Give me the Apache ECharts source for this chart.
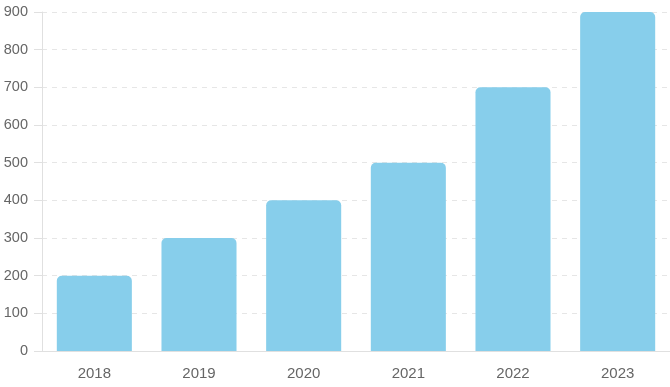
<!DOCTYPE html>
<html><head><meta charset="utf-8">
<script src="https://cdn.jsdelivr.net/npm/echarts@6/dist/echarts.min.js"></script>
<style>html,body{margin:0;padding:0;background:#fff}#c{width:670px;height:387px}</style>
</head><body><div id="c"></div>
<script>
const categories = ['2018','2019','2020','2021','2022','2023'];
const values = [200, 300, 400, 500, 700, 900];
const chart = echarts.init(document.getElementById('c'));
chart.setOption({
  animation: false,
  grid: {left: 42, right: 0, top: 12, bottom: 36},
  xAxis: {
    type: 'category', data: categories,
    axisLine: {lineStyle: {color: '#e0e0e0'}},
    axisTick: {show: false},
    axisLabel: {color: '#666', fontSize: 15, margin: 15, fontFamily: 'Liberation Sans, Arial, sans-serif'}
  },
  yAxis: {
    type: 'value', min: 0, max: 900, interval: 100,
    axisLine: {show: true, lineStyle: {color: '#e0e0e0'}},
    axisTick: {show: true, length: 8, lineStyle: {color: '#e0e0e0'}},
    axisLabel: {color: '#666', fontSize: 14.5, margin: 14, fontFamily: 'Liberation Sans, Arial, sans-serif'},
    splitLine: {lineStyle: {color: '#e6e6e6', type: [5, 5]}}
  },
  series: [{
    type: 'bar', data: values, barWidth: '71.7%',
    itemStyle: {color: '#87CEEB', borderRadius: [5, 5, 0, 0]}
  }]
});
</script></body></html>
